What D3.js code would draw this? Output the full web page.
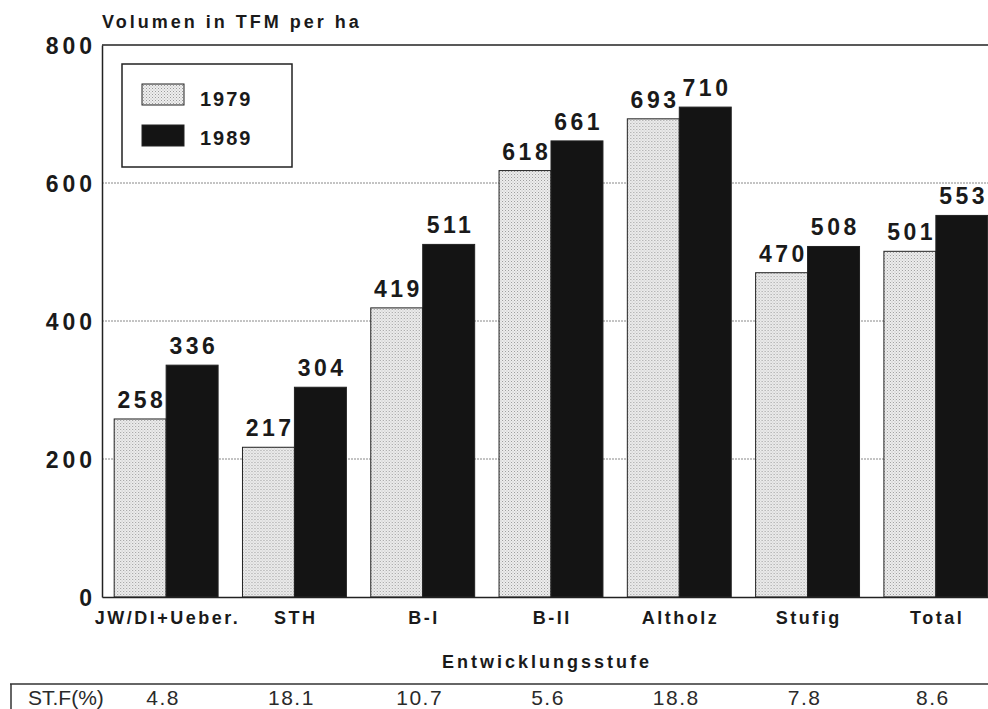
<!DOCTYPE html>
<html><head><meta charset="utf-8">
<script src="https://cdn.jsdelivr.net/npm/d3@7"></script>
<style>body{margin:0;background:#fff}svg{display:block}</style>
</head><body>
<svg id="c" width="988" height="709"></svg>
<script>
const categories = ["JW/Dl+Ueber.", "STH", "B-I", "B-II", "Altholz", "Stufig", "Total"];
const series = ["1979", "1989"];
const values1979 = [258, 217, 419, 618, 693, 470, 501];
const values1989 = [336, 304, 511, 661, 710, 508, 553];
const stfValues = ["4.8", "18.1", "10.7", "5.6", "18.8", "7.8", "8.6"];
const yTicks = [0, 200, 400, 600, 800];

(function () {
const svg = d3.select("#c");
const font = "'Liberation Sans', Arial, sans-serif";
const mLeft = 102, mRight = 1000, mTop = 45, mBottom = 597;

const defs = svg.append("defs");
const pat = defs.append("pattern").attr("id", "dots").attr("patternUnits", "userSpaceOnUse")
  .attr("width", 3).attr("height", 3);
pat.append("rect").attr("width", 3).attr("height", 3).attr("fill", "#eeeeee");
pat.append("rect").attr("x", 0).attr("y", 0).attr("width", 1).attr("height", 1).attr("fill", "#9a9a9a");
pat.append("rect").attr("x", 1.5).attr("y", 1.5).attr("width", 1).attr("height", 1).attr("fill", "#b5b5b5");

const x = d3.scaleBand().domain(categories).range([mLeft, mRight]).paddingInner(0.19).paddingOuter(0.095);
const xs = d3.scaleBand().domain(series).range([0, x.bandwidth()]);
const y = d3.scaleLinear().domain([0, 800]).range([mBottom, mTop]);

svg.append("g").selectAll("line").data([200, 400, 600]).join("line")
  .attr("x1", mLeft).attr("x2", 988).attr("y1", d => y(d)).attr("y2", d => y(d))
  .attr("stroke", "#888").attr("stroke-width", 1).attr("stroke-dasharray", "2,1");
svg.append("line").attr("x1", mLeft).attr("x2", 988).attr("y1", y(800)).attr("y2", y(800))
  .attr("stroke", "#222").attr("stroke-width", 1.5);

const yAxis = d3.axisLeft(y).tickValues(yTicks).tickSize(0).tickPadding(6);
const gy = svg.append("g").attr("transform", `translate(${mLeft},0)`).call(yAxis);
gy.select(".domain").attr("stroke", "#222").attr("stroke-width", 1.5);
gy.selectAll("text").attr("font-family", font).attr("font-size", 23).attr("font-weight", "bold")
  .attr("letter-spacing", "4px").attr("fill", "#1a1a1a").attr("dy", "0.38em");

const data = categories.map((c, i) => ({c, vals: [{s: "1979", v: values1979[i]}, {s: "1989", v: values1989[i]}]}));
const groups = svg.append("g").selectAll("g").data(data).join("g")
  .attr("transform", d => `translate(${x(d.c)},0)`);
groups.selectAll("rect").data(d => d.vals).join("rect")
  .attr("x", d => xs(d.s)).attr("width", xs.bandwidth())
  .attr("y", d => y(d.v)).attr("height", d => y(0) - y(d.v))
  .attr("fill", d => d.s === "1979" ? "url(#dots)" : "#141414")
  .attr("stroke", "#222").attr("stroke-width", 1);
groups.selectAll("text").data(d => d.vals).join("text")
  .attr("x", d => xs(d.s) + xs.bandwidth() / 2 + 1.75).attr("y", d => y(d.v) - 11)
  .attr("text-anchor", "middle").attr("font-family", font).attr("font-size", 23).attr("font-weight", "bold")
  .attr("letter-spacing", "3.5px").attr("fill", "#1a1a1a").text(d => d.v);

const xAxis = d3.axisBottom(x).tickSize(0).tickPadding(14);
const gx = svg.append("g").attr("transform", `translate(0,${mBottom})`).call(xAxis);
gx.select(".domain").attr("stroke", "#222").attr("stroke-width", 1.5);
gx.selectAll("text").attr("font-family", font).attr("font-size", 18).attr("font-weight", "bold")
  .attr("letter-spacing", "2.5px").attr("dx", "1.25px").attr("fill", "#1a1a1a");

svg.append("text").attr("x", 547).attr("y", 668).attr("text-anchor", "middle")
  .attr("font-family", font).attr("font-size", 18).attr("font-weight", "bold").attr("letter-spacing", "3px")
  .attr("fill", "#1a1a1a").text("Entwicklungsstufe");

svg.append("text").attr("x", 102).attr("y", 28)
  .attr("font-family", font).attr("font-size", 18).attr("font-weight", "bold").attr("letter-spacing", "3px")
  .attr("fill", "#1a1a1a").text("Volumen in TFM per ha");

const lg = svg.append("g").attr("transform", "translate(122,64)");
lg.append("rect").attr("width", 170).attr("height", 103).attr("fill", "#fff").attr("stroke", "#222").attr("stroke-width", 1.5);
lg.selectAll("rect.sw").data(series).join("rect").attr("class", "sw")
  .attr("x", 20).attr("y", (d, i) => 20 + i * 41).attr("width", 42).attr("height", 21)
  .attr("fill", d => d === "1979" ? "url(#dots)" : "#141414").attr("stroke", "#222");
lg.selectAll("text").data(series).join("text")
  .attr("x", 78).attr("y", (d, i) => 42 + i * 39)
  .attr("font-family", font).attr("font-size", 20).attr("font-weight", "bold").attr("letter-spacing", "2px")
  .attr("fill", "#1a1a1a").text(d => d);

svg.append("line").attr("x1", 10).attr("x2", 988).attr("y1", 684).attr("y2", 684).attr("stroke", "#333").attr("stroke-width", 1.5);
svg.append("line").attr("x1", 11).attr("x2", 11).attr("y1", 684).attr("y2", 709).attr("stroke", "#333").attr("stroke-width", 1.5);
svg.append("text").attr("x", 28).attr("y", 705).attr("font-family", font).attr("font-size", 21)
  .attr("fill", "#2a2a2a").text("ST.F(%)");
svg.append("g").selectAll("text").data(stfValues).join("text")
  .attr("x", (d, i) => x(categories[i]) + x.bandwidth() / 2 - 3)
  .attr("y", 705).attr("text-anchor", "middle").attr("font-family", font).attr("font-size", 21)
  .attr("letter-spacing", "1.5px").attr("fill", "#2a2a2a").text(d => d);
})();
</script>
</body></html>
